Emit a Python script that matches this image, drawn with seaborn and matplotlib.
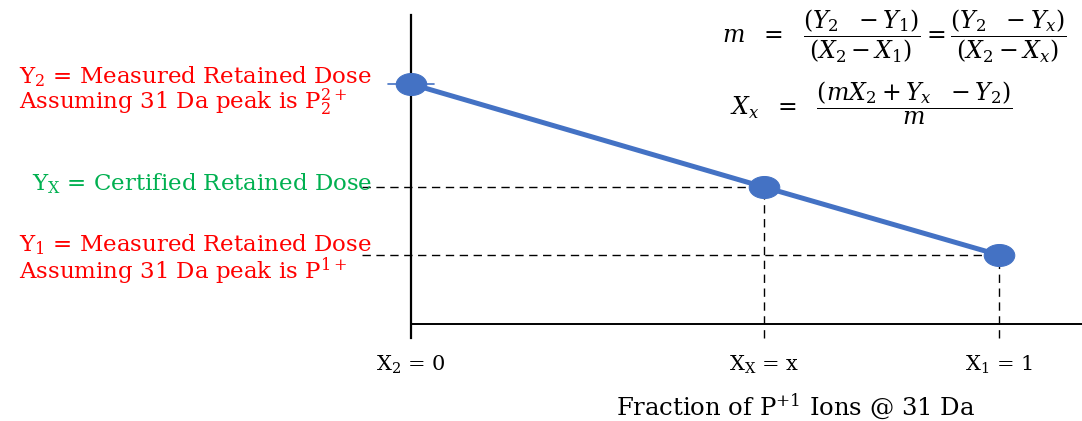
import numpy as np
import pandas as pd
import matplotlib
matplotlib.use("Agg")
import matplotlib.pyplot as plt
from matplotlib.path import Path
from matplotlib.transforms import Affine2D, blended_transform_factory
import seaborn as sns

# ---- data (arbitrary dose units) ----
fraction = [0.0, 0.6, 1.0]              # X2, Xx, X1
dose = [240.0, 137.0, 69.0]             # Y2, Yx, Y1
tick_labels = [r"X$_\mathrm{2}$ = 0", r"X$_\mathrm{X}$ = x", r"X$_\mathrm{1}$ = 1"]
dose_labels = [
    "Y$_\\mathrm{2}$ = Measured Retained Dose\nAssuming 31 Da peak is P$_\\mathrm{2}^\\mathrm{2+}$",
    "Y$_\\mathrm{X}$ = Certified Retained Dose",
    "Y$_\\mathrm{1}$ = Measured Retained Dose\nAssuming 31 Da peak is P$^\\mathrm{1+}$",
]
dose_label_colors = ["#FF0000", "#00B050", "#FF0000"]
xlabel = "Fraction of P$^\\mathrm{+1}$ Ions @ 31 Da"
eq1 = r"$m\ \ =\ \ \dfrac{(Y_2\ \ - Y_1)}{(X_2 - X_1)} = \dfrac{(Y_2\ \ - Y_x)}{(X_2 - X_x)}$"
eq2 = r"$X_x\ \ =\ \ \dfrac{(mX_2 + Y_x\ \ - Y_2)}{m}$"

sns.set_style("white")
plt.rcParams["font.family"] = ["DejaVu Serif"]
plt.rcParams["mathtext.fontset"] = "dejavuserif"
plt.rcParams["text.color"] = "black"
plt.rcParams["xtick.color"] = "black"
plt.rcParams["xtick.labelcolor"] = "black"

W, H = 1082, 421
fig = plt.figure(figsize=(W / 100, H / 100), dpi=100)
ax = fig.add_axes([411 / W, (H - 338) / H, (W - 411) / W, (338 - 15) / H])

px_per_x = 588.0
ax.set_xlim(0, (W - 411) / px_per_x)
ax.set_ylim(-(338 - 324), 324 - 15)

blue = "#4472C4"
df = pd.DataFrame({"fraction": fraction, "dose": dose})

# ellipse marker (wider than tall)
ellipse = Path.unit_circle().transformed(Affine2D().scale(1.0, 0.72))

sns.lineplot(data=df, x="fraction", y="dose", ax=ax, color=blue, linewidth=3.6,
             marker=ellipse, markersize=22, markeredgecolor=blue,
             markerfacecolor=blue, zorder=5, clip_on=False)
for ln in ax.lines:
    ln.set_clip_on(False)

# small blue tick through the Y2 point
ax.plot([-23 / px_per_x, 23 / px_per_x], [dose[0], dose[0]], color=blue,
        linewidth=1.2, zorder=4, clip_on=False)

ymin = ax.get_ylim()[0]
# dashed guides
for xv, yv in zip(fraction[1:], dose[1:]):
    ax.hlines(yv, -49 / px_per_x, xv, colors="black", linestyles=(0, (6, 4)),
              linewidth=1.0, zorder=2, clip_on=False)
    ax.vlines(xv, ymin, yv, colors="black", linestyles=(0, (6, 4)),
              linewidth=1.0, zorder=2, clip_on=False)

# axes: left spine and x axis line at y=0
for s in ["top", "right", "bottom"]:
    ax.spines[s].set_visible(False)
ax.spines["left"].set_color("black")
ax.spines["left"].set_linewidth(1.6)
ax.axhline(0, color="black", linewidth=1.4, zorder=3)

ax.set_yticks([])
ax.set_xticks(fraction)
ax.set_xticklabels(tick_labels, fontsize=15, color="black")
ax.tick_params(axis="x", length=0, pad=11)
ax.set_xlabel("")
ax.set_ylabel("")

# x-axis title
fig.text(795 / W, 1 - 406 / H, xlabel, ha="center", va="center", fontsize=17.5,
         color="black")

# left dose labels, anchored to the data y positions
trans = blended_transform_factory(fig.transFigure, ax.transData)
offsets = [-7, 3, -5]
for lab, col, yv, off in zip(dose_labels, dose_label_colors, dose, offsets):
    ax.text(372 / W, yv + off, lab, transform=trans, ha="right", va="center",
            multialignment="left", color=col, fontsize=16.5, linespacing=0.92,
            clip_on=False)

# equations
fig.text(722 / W, 1 - 36 / H, eq1, ha="left", va="center", fontsize=17,
         color="black")
fig.text(730 / W, 1 - 103 / H, eq2, ha="left", va="center", fontsize=17,
         color="black")

fig.savefig("out.png", dpi=100)
